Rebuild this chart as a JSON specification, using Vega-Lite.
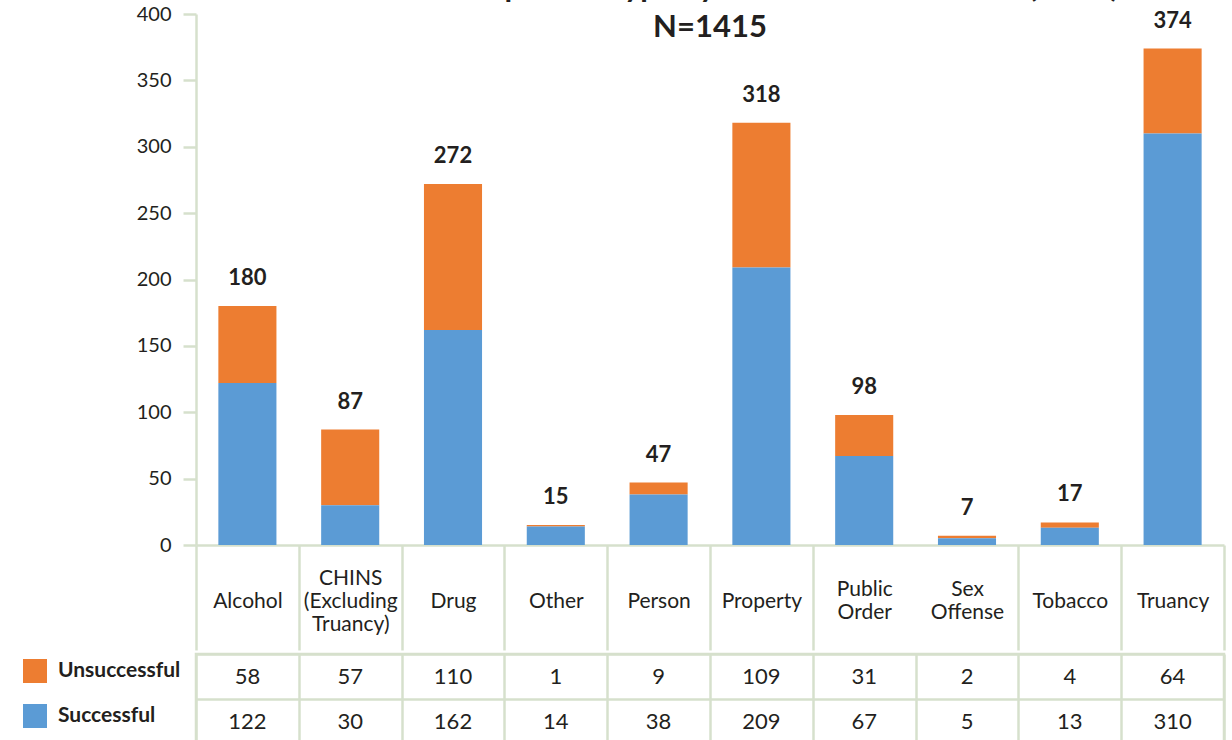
{
  "$schema": "https://vega.github.io/schema/vega-lite/v6.json",
  "background": "white",
  "padding": {"left": 16, "top": -28, "right": 0, "bottom": 0},
  "autosize": {"type": "pad"},
  "config": {
    "font": "Lato",
    "view": {"stroke": null},
    "title": {"font": "Lato", "fontWeight": "bold", "color": "#231f20"}
  },
  "data": {
    "values": [
      {"category": "Alcohol", "status": "Unsuccessful", "count": 58},
      {"category": "Alcohol", "status": "Successful", "count": 122},
      {"category": "CHINS (Excluding Truancy)", "status": "Unsuccessful", "count": 57},
      {"category": "CHINS (Excluding Truancy)", "status": "Successful", "count": 30},
      {"category": "Drug", "status": "Unsuccessful", "count": 110},
      {"category": "Drug", "status": "Successful", "count": 162},
      {"category": "Other", "status": "Unsuccessful", "count": 1},
      {"category": "Other", "status": "Successful", "count": 14},
      {"category": "Person", "status": "Unsuccessful", "count": 9},
      {"category": "Person", "status": "Successful", "count": 38},
      {"category": "Property", "status": "Unsuccessful", "count": 109},
      {"category": "Property", "status": "Successful", "count": 209},
      {"category": "Public Order", "status": "Unsuccessful", "count": 31},
      {"category": "Public Order", "status": "Successful", "count": 67},
      {"category": "Sex Offense", "status": "Unsuccessful", "count": 2},
      {"category": "Sex Offense", "status": "Successful", "count": 5},
      {"category": "Tobacco", "status": "Unsuccessful", "count": 4},
      {"category": "Tobacco", "status": "Successful", "count": 13},
      {"category": "Truancy", "status": "Unsuccessful", "count": 64},
      {"category": "Truancy", "status": "Successful", "count": 310}
    ]
  },
  "spacing": 0,
  "resolve": {"scale": {"color": "independent"}, "legend": {"color": "independent"}},
  "vconcat": [
    {
      "width": 1028,
      "height": 531,
      "title": {
        "text": ["Diversion Completion Type by Most Serious Offense (FY16)", "N=1415"],
        "fontSize": 31,
        "lineHeight": 40,
        "anchor": "middle",
        "offset": -40
      },
      "layer": [
        {
          "mark": {"type": "bar", "width": {"band": 0.565}},
          "encoding": {
            "x": {
              "field": "category", "type": "nominal", "sort": null,
              "scale": {"paddingInner": 0, "paddingOuter": 0},
              "axis": {
                "title": null,
                "domainColor": "#d6e0cc", "domainWidth": 2.5,
                "tickBand": "extent", "tickSize": 105, "tickColor": "#d6e0cc", "tickWidth": 2.5,
                "tickOpacity": {"condition": {"test": "datum.value === 'Public Order'", "value": 0}, "value": 1},
                "labelExpr": "datum.label === 'CHINS (Excluding Truancy)' ? ['CHINS', '\u200b', '(Excluding', '\u200b', 'Truancy)'] : indexof(datum.label, ' ') > 0 ? ['\u200b', split(datum.label, ' ')[0], '\u200b', split(datum.label, ' ')[1]] : ['\u200b', '\u200b', datum.label]",
                "labelAngle": 0,
                "labelFontSize": 21, "labelLineHeight": 11.5,
                "labelPadding": -72, "labelBaseline": "middle",
                "labelColor": "#231f20", "labelFont": "Lato"
              }
            },
            "y": {
              "field": "count", "type": "quantitative",
              "scale": {"domain": [0, 400]},
              "axis": {
                "title": null, "grid": false,
                "values": [0, 50, 100, 150, 200, 250, 300, 350, 400],
                "domainColor": "#d6e0cc", "domainWidth": 2.5,
                "tickColor": "#d6e0cc", "tickWidth": 2.5, "tickSize": 13,
                "labelFontSize": 20, "labelPadding": 12,
                "labelColor": "#231f20", "labelFont": "Lato"
              }
            },
            "color": {
              "field": "status", "type": "nominal",
              "scale": {"domain": ["Unsuccessful", "Successful"], "range": ["#ED7D31", "#5B9BD5"]},
              "legend": null
            },
            "order": {"field": "status", "sort": "ascending"}
          }
        },
        {
          "mark": {"type": "text", "fontSize": 22, "fontWeight": "bold", "font": "Lato", "color": "#231f20", "baseline": "alphabetic", "dy": -21},
          "encoding": {
            "x": {"field": "category", "type": "nominal", "sort": null},
            "y": {"aggregate": "sum", "field": "count", "type": "quantitative"},
            "text": {"aggregate": "sum", "field": "count", "type": "quantitative"}
          }
        }
      ]
    },
    {
      "width": 1028,
      "height": 90,
      "view": {"stroke": "#d6e0cc", "strokeWidth": 2.5},
      "layer": [
        {
          "mark": {"type": "text", "fontSize": 22, "font": "Lato", "color": "#231f20"},
          "encoding": {
            "x": {
              "field": "category", "type": "nominal", "sort": null,
              "scale": {"paddingInner": 0, "paddingOuter": 0},
              "axis": {"title": null, "labels": false, "ticks": false, "domain": false, "grid": true, "tickBand": "extent", "gridColor": "#d6e0cc", "gridWidth": 2.5}
            },
            "y": {
              "field": "status", "type": "nominal",
              "scale": {"domain": ["Unsuccessful", "Successful"], "paddingInner": 0, "paddingOuter": 0},
              "axis": {"title": null, "labels": false, "ticks": false, "domain": false, "grid": true, "tickBand": "extent", "gridColor": "#d6e0cc", "gridWidth": 2.5}
            },
            "text": {"field": "count", "type": "quantitative"}
          }
        },
        {
          "mark": {"type": "square", "size": 0, "opacity": 1},
          "encoding": {
            "x": {"field": "category", "type": "nominal", "sort": null},
            "y": {"field": "status", "type": "nominal"},
            "color": {
              "field": "status", "type": "nominal",
              "scale": {"domain": ["Unsuccessful", "Successful"], "range": ["#ED7D31", "#5B9BD5"]},
              "legend": {
                "orient": "left", "title": null,
                "symbolType": "square", "symbolSize": 576, "symbolStrokeWidth": 0, "symbolOpacity": 1,
                "labelFontSize": 21, "labelFontWeight": "bold", "labelFont": "Lato", "labelColor": "#231f20",
                "rowPadding": 21, "labelOffset": 11, "offset": 10, "padding": 5
              }
            }
          }
        }
      ]
    }
  ]
}
